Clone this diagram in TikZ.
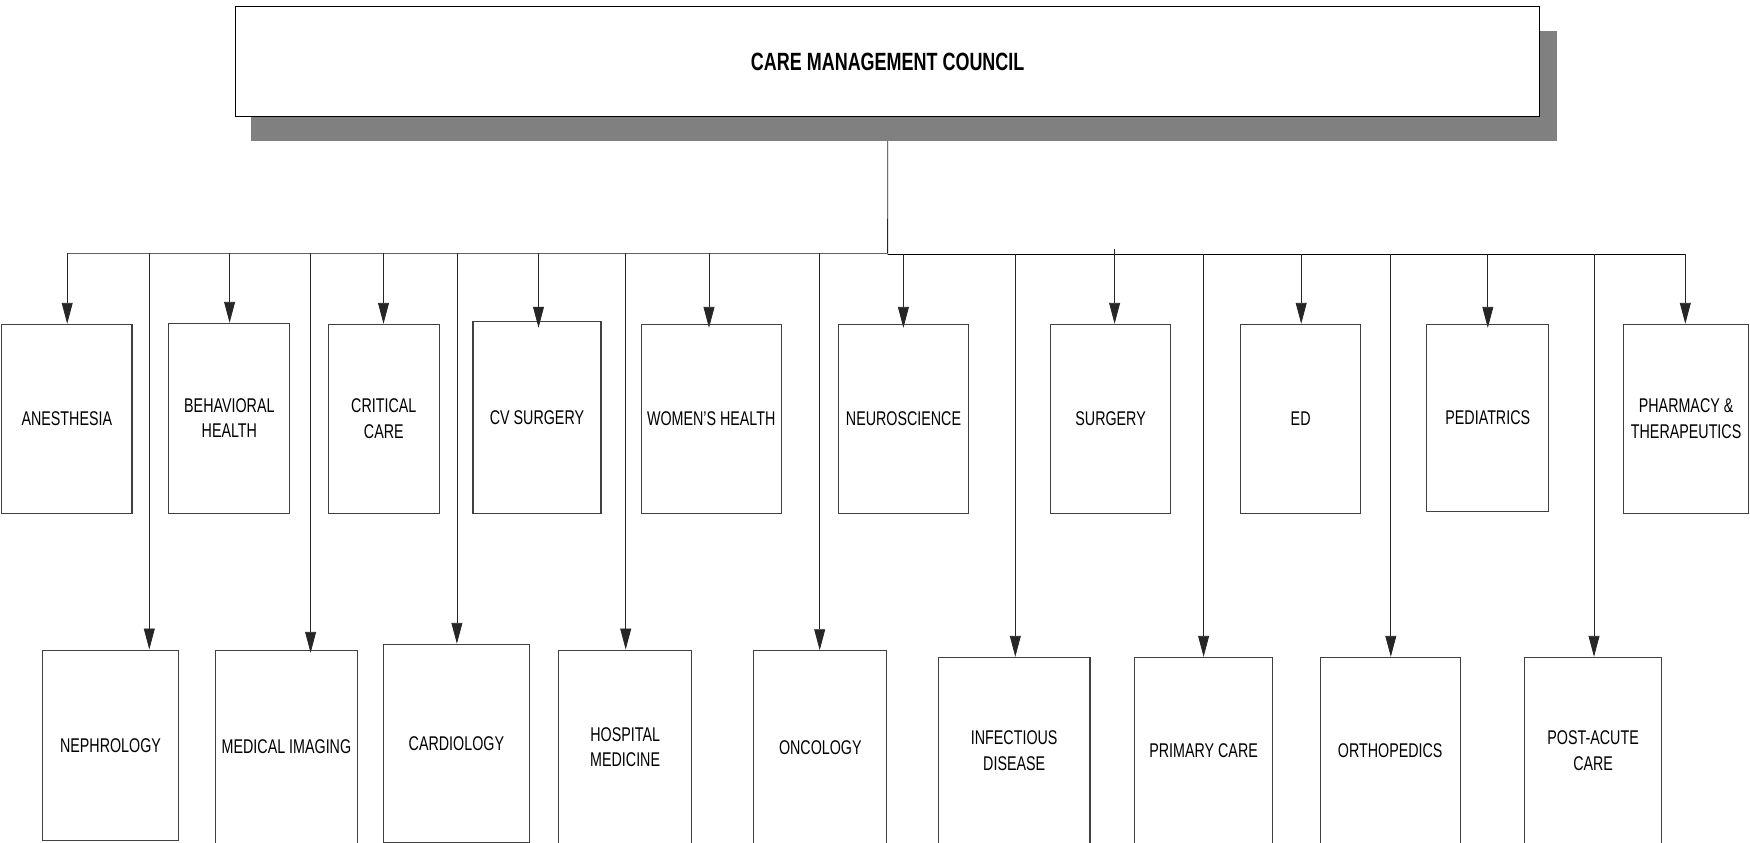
\documentclass[tikz,border=0pt]{standalone}
\usepackage{fontspec}
\usetikzlibrary{arrows.meta}
\newfontfamily\orgfont[FakeStretch=0.72]{Liberation Sans}

\tikzset{
  unitbox/.style={draw=black!75, line width=0.6pt, fill=white, inner sep=0pt,
    align=center, font=\orgfont\fontsize{11.3}{14.5}\selectfont},
  councilbox/.style={draw=black, line width=0.7pt, fill=white, inner sep=0pt,
    font=\orgfont\bfseries\fontsize{14.2}{17}\selectfont},
  dropshade/.style={fill=black!50, draw=none, inner sep=0pt},
  conn/.style={draw=black!85, line width=0.45pt},
  arr/.style={conn, -{Triangle[length=11.9pt,width=6.2pt]}},
  busleft/.style={draw=black!62, line width=0.8pt},
  busright/.style={draw=black, line width=0.6pt},
}

% #1 style, #2 name, #3 left, #4 top, #5 right, #6 bottom, #7 text
\newcommand\placebox[7]{%
  \pgfmathsetmacro\boxw{(#5-#3)*0.2}%
  \pgfmathsetmacro\boxh{(#6-#4)*0.2}%
  \node[#1, minimum width=\boxw mm, minimum height=\boxh mm] (#2)
    at ({(#3+#5)/2},{(#4+#6)/2}) {#7};%
}

\begin{document}
\begin{tikzpicture}[x=0.02cm,y=-0.02cm]
\useasboundingbox (0,0) rectangle (1750,842);
\clip (0,0) rectangle (1750,842);

% council with its drop shadow
\placebox{dropshade}{cmcshade}{250.9}{30.7}{1556.7}{140.7}{}
\placebox{councilbox}{cmc}{235.4}{6.7}{1540}{116.7}{CARE MANAGEMENT COUNCIL}

% upper row of committees
\placebox{unitbox}{anes}{1.7}{324.3}{132}{513.3}{ANESTHESIA}
\placebox{unitbox}{behav}{168.8}{323.3}{289.9}{513.3}{BEHAVIORAL\\HEALTH}
\placebox{unitbox}{crit}{328.4}{324.3}{439.2}{513.3}{CRITICAL\\CARE}
\placebox{unitbox}{cvs}{473}{321.7}{601}{513.3}{CV SURGERY}
\placebox{unitbox}{womens}{641.2}{324.3}{781.3}{513.3}{WOMEN’S HEALTH}
\placebox{unitbox}{neuro}{838.7}{324.3}{968.3}{513.3}{NEUROSCIENCE}
\placebox{unitbox}{surg}{1050.3}{324.3}{1170.9}{513.3}{SURGERY}
\placebox{unitbox}{ed}{1240.4}{324.3}{1360.9}{513.3}{ED}
\placebox{unitbox}{peds}{1426.9}{324.3}{1548.6}{511.3}{PEDIATRICS}
\placebox{unitbox}{pharm}{1623.8}{324.3}{1748.4}{513.3}{PHARMACY \&\\THERAPEUTICS}

% lower row of committees
\placebox{unitbox}{neph}{42.5}{650}{178.5}{840.7}{NEPHROLOGY}
\placebox{unitbox}{medimg}{215.8}{650}{357.1}{844}{MEDICAL IMAGING}
\placebox{unitbox}{cardio}{383.5}{644.3}{529.3}{843}{CARDIOLOGY}
\placebox{unitbox}{hosp}{558.6}{650}{691.7}{844}{HOSPITAL\\MEDICINE}
\placebox{unitbox}{onco}{753.7}{650.7}{886.9}{844}{ONCOLOGY}
\placebox{unitbox}{infect}{938.4}{657.3}{1090}{844}{INFECTIOUS\\DISEASE}
\placebox{unitbox}{primary}{1134.7}{657.3}{1272.5}{844}{PRIMARY CARE}
\placebox{unitbox}{ortho}{1320.2}{657.3}{1460.2}{844}{ORTHOPEDICS}
\placebox{unitbox}{post}{1524.5}{657.3}{1661.7}{844}{POST-ACUTE\\CARE}

% distribution bus
\coordinate (hubL) at (887.6,253.3);
\coordinate (hubR) at (887.6,254.3);
\foreach \n/\x in {anes/67.2, neph/149.3, behav/229.6, medimg/310.6, crit/383.5,
                   cardio/456.9, cvs/538.5, hosp/625.7, womens/709, onco/819.7}
  \coordinate (b-\n) at (\x,253.3);
\foreach \n/\x in {neuro/903.4, infect/1015.3, primary/1203.6, ed/1301.2,
                   ortho/1390.8, peds/1487.8, post/1594, pharm/1685.3}
  \coordinate (b-\n) at (\x,254.3);
\coordinate (b-surg) at (1114.6,249.3);

\draw[conn] (cmc.south |- cmcshade.south) -- (hubR);
\draw[busleft] (hubL) -- (b-anes);
\draw[busright] (hubR) -- (b-pharm);

% branches down to each committee
\foreach \n/\s in {anes/0pt, neph/0pt, behav/0pt, medimg/-1.9pt, crit/0pt,
                   cardio/0pt, cvs/-3.7pt, hosp/0pt, womens/-2.3pt, onco/0pt,
                   neuro/-2.3pt, infect/0pt, surg/0pt, primary/0pt, ed/0pt,
                   ortho/0pt, peds/-2.3pt, post/0pt, pharm/0pt}
  \draw[arr, shorten >=\s] (b-\n) -- (b-\n |- \n.north);
\end{tikzpicture}
\end{document}
